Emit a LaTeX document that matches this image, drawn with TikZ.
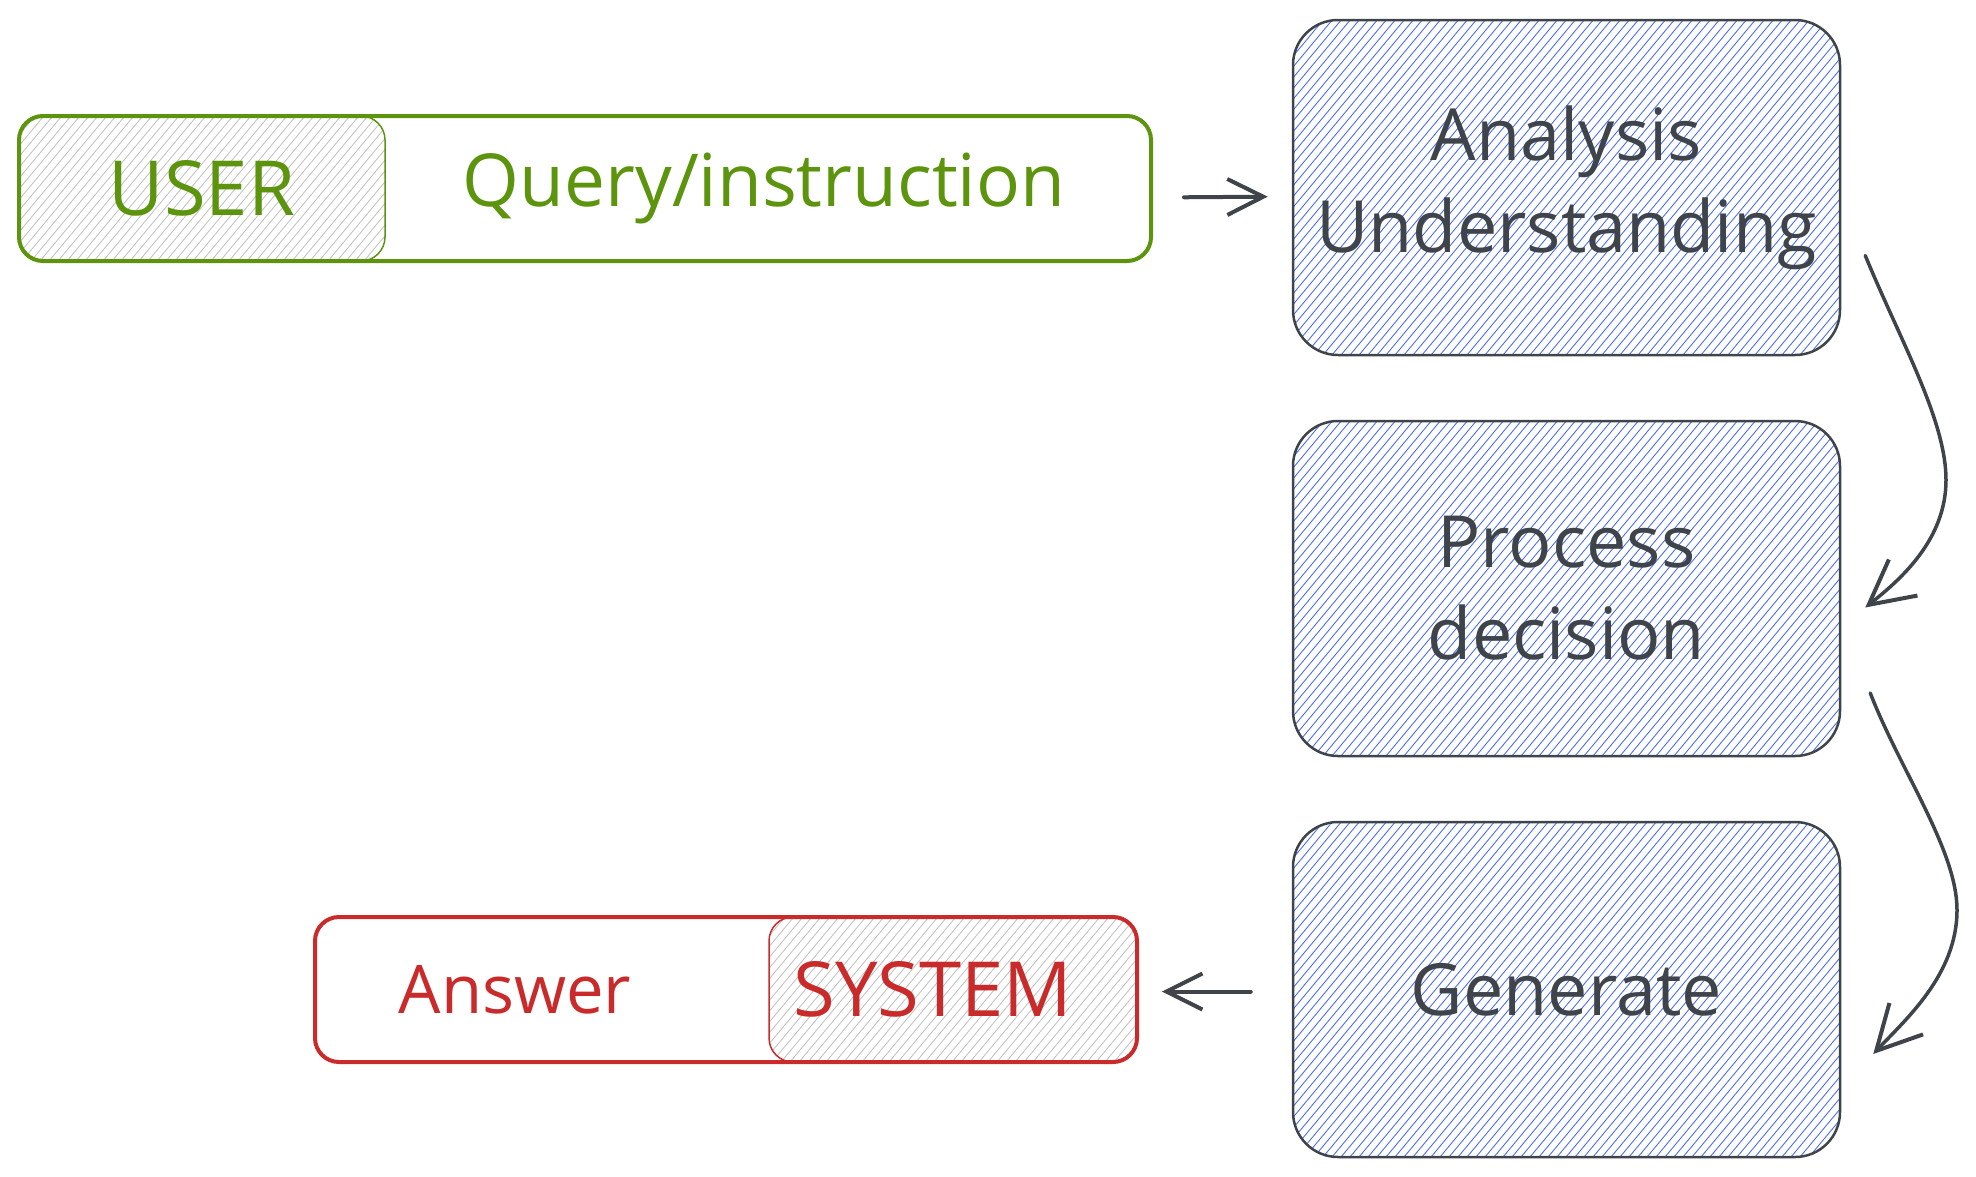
\documentclass[tikz,border=0pt]{standalone}
\usepackage{fontspec}
\setmainfont{Open Sans}
\usetikzlibrary{arrows.meta,calc}
\definecolor{ink}{HTML}{3F444B}
\definecolor{hblue}{HTML}{4C6EF5}
\definecolor{ugreen}{HTML}{5C940D}
\definecolor{sred}{HTML}{C92A2A}
\definecolor{hgray}{HTML}{C4C4C4}
\tikzset{
  hatch/.style={path picture={
    \foreach \k in {-420,-411,...,600}{
      \draw[#1, line width=0.9pt] ([xshift=\k pt]path picture bounding box.south west) -- ++(400pt,480pt);
    }}},
  bluebox/.style={draw=ink, line width=2.5pt, rounded corners=45pt, minimum width=547pt,
    minimum height=335pt, inner sep=0pt, align=center, text=ink,
    font=\fontsize{72}{92}\selectfont, hatch=hblue},
  outerbox/.style={draw=#1, line width=4pt, rounded corners=24pt, inner sep=0pt, minimum height=145pt},
  tagbox/.style={draw=#1, line width=1.5pt, rounded corners=24pt, inner sep=0pt, minimum height=145pt, hatch=hgray},
  label/.style={text=#1, inner sep=0pt},
  fs/.style={font=\fontsize{#1}{#1}\selectfont},
  arr/.style={draw=ink, line width=4pt, line cap=round,
    -{Straight Barb[length=36pt, width=36pt, line width=4pt]}},
  carr/.style={draw=ink, line width=3.5pt, line cap=round,
    -{Straight Barb[length=44pt, width=46pt, line width=4pt]}},
}
\begin{document}
\begin{tikzpicture}[x=1pt,y=-1pt]
\useasboundingbox (0,0) rectangle (1976,1176);
% process boxes
\node[bluebox] (a) at (1566.5,187.5) {Analysis\\Understanding};
\node[bluebox] (b) at (1566.5,588.5) {Process\\decision};
\node[bluebox] (g) at (1566.5,989.5) {Generate};
% user query
\node[tagbox=ugreen, minimum width=366pt] (ubox) at (202,188.5) {};
\node[outerbox=ugreen, minimum width=1132pt] (qbox) at (585,188.5) {};
\node[label=ugreen, fs=76] (user) at (ubox.center) {USER};
\node[label=ugreen, fs=73] (query) at (764,188.5) {Query/instruction};
% system answer
\node[tagbox=sred, minimum width=368pt] (sbox) at (953,989.5) {};
\node[outerbox=sred, minimum width=822pt] (abox) at (726,989.5) {};
\node[label=sred, fs=67] (answer) at (515,989.5) {Answer};
\node[label=sred, fs=76] (system) at (933,989.5) {SYSTEM};
% arrows
\draw[arr, shorten <=31pt, shorten >=24pt] ([yshift=-9pt]qbox.east) -- ([yshift=-9pt]a.west);
\draw[arr, shorten <=41pt, shorten >=23pt] ([yshift=-2pt]g.west) -- ([yshift=-2pt]abox.east);
\coordinate (s1) at ($(a.east)+(24,68)$);
\coordinate (e1) at ($(b.east)+(24,19)$);
\coordinate (s2) at ($(b.east)+(29,104.5)$);
\coordinate (e2) at ($(g.east)+(32,64.5)$);
\draw[carr] (s1) .. controls (1900,340) and (1946,420) .. (1946,480)
  .. controls (1946,540) and (1900,580) .. (e1);
\draw[carr] (s2) .. controls (1900,770) and (1957,850) .. (1957,910)
  .. controls (1957,975) and (1905,1020) .. (e2);
\end{tikzpicture}
\end{document}
